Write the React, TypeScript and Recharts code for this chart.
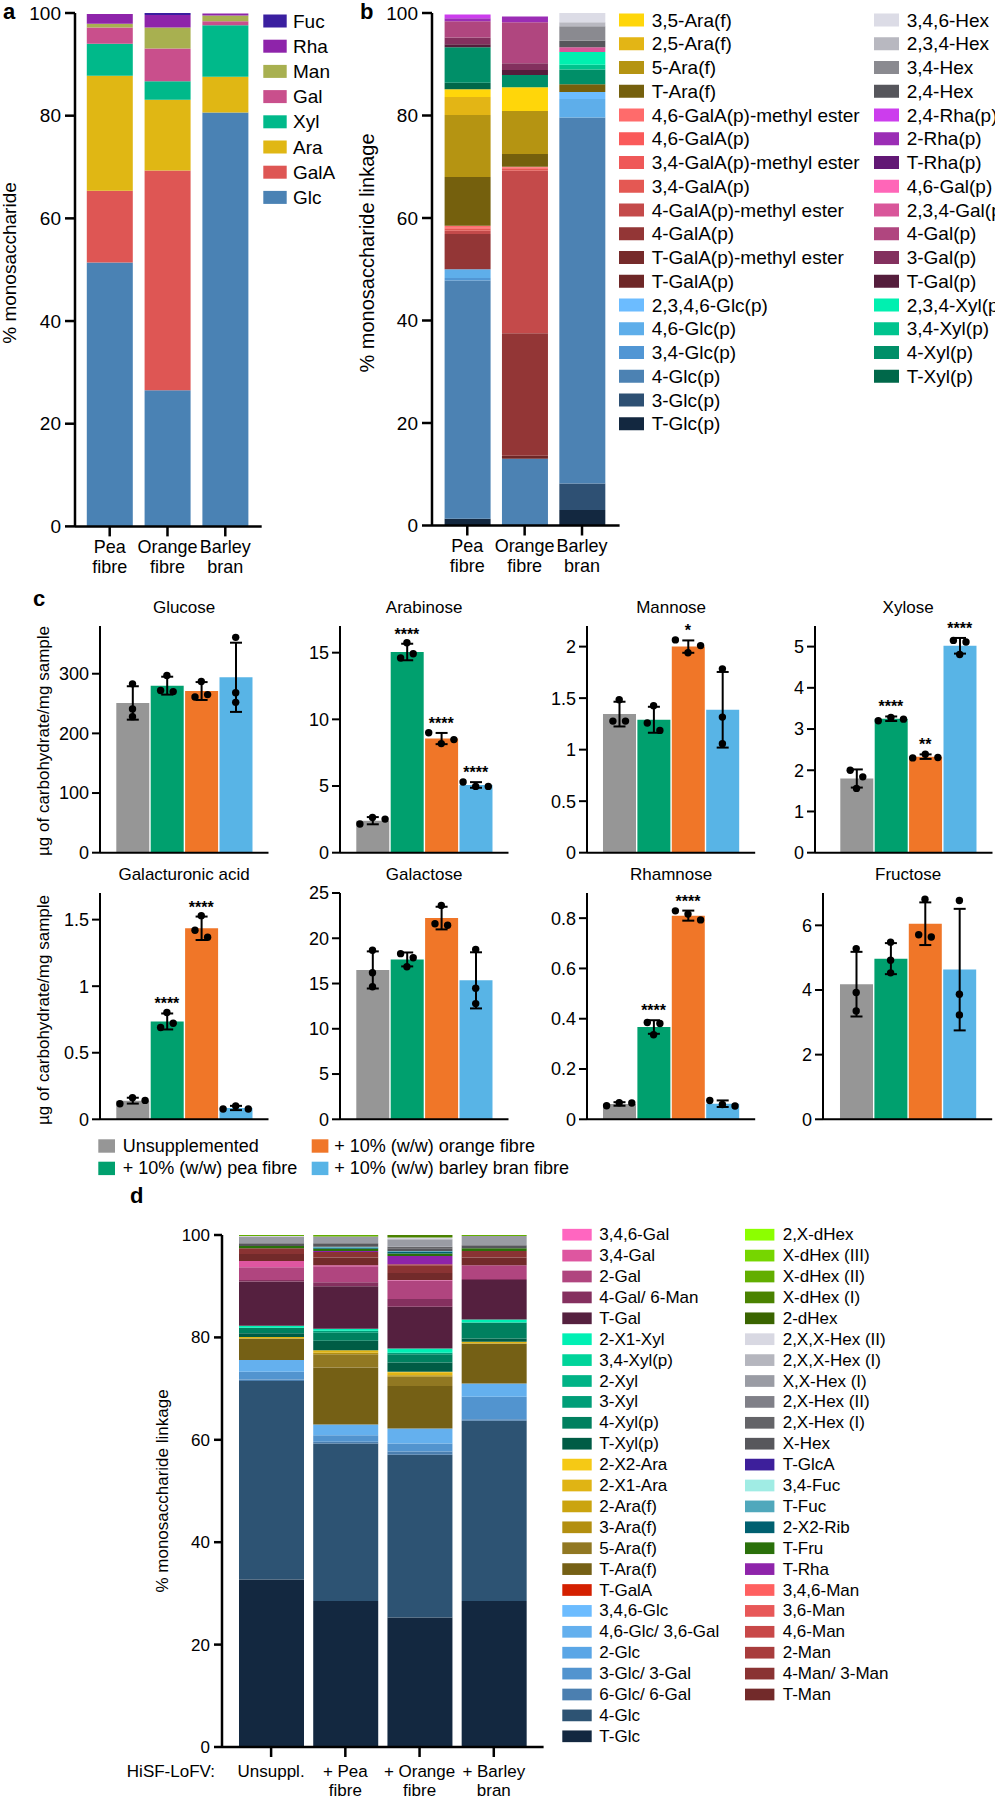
import React from 'react';
import { BarChart, Bar, XAxis, YAxis, ComposedChart, Line, ErrorBar, Cell } from 'recharts';

const FONT = '"Liberation Sans", Arial, Helvetica, sans-serif';
const AXIS = '#000';

// ---------------- Panel a ----------------
const aCategories = ['Pea\nfibre', 'Orange\nfibre', 'Barley\nbran'];
const aNames = ['Fuc', 'Rha', 'Man', 'Gal', 'Xyl', 'Ara', 'GalA', 'Glc'];
const aColors = ['#3a1fa0', '#8e24aa', '#a8b050', '#c94f8c', '#00b98a', '#e0b714', '#de5654', '#4a82b4'];
// values per sugar: [Pea fibre, Orange fibre, Barley bran]
const aValues = [
  [0, 0.4, 0],
  [1.9, 2.4, 0.4],
  [0.7, 4.1, 1.1],
  [3.2, 6.4, 0.8],
  [6.2, 3.6, 10.0],
  [22.4, 13.8, 7.0],
  [14.0, 42.8, 0],
  [51.4, 26.5, 80.6],
];
const pctTicks = [0, 20, 40, 60, 80, 100];

// ---------------- Panel b ----------------
const bCategories = ['Pea\nfibre', 'Orange\nfibre', 'Barley\nbran'];
const bNamesCol1 = ['3,5-Ara(f)', '2,5-Ara(f)', '5-Ara(f)', 'T-Ara(f)', '4,6-GalA(p)-methyl ester', '4,6-GalA(p)',
  '3,4-GalA(p)-methyl ester', '3,4-GalA(p)', '4-GalA(p)-methyl ester', '4-GalA(p)', 'T-GalA(p)-methyl ester', 'T-GalA(p)',
  '2,3,4,6-Glc(p)', '4,6-Glc(p)', '3,4-Glc(p)', '4-Glc(p)', '3-Glc(p)', 'T-Glc(p)'];
const bNamesCol2 = ['3,4,6-Hex', '2,3,4-Hex', '3,4-Hex', '2,4-Hex', '2,4-Rha(p)', '2-Rha(p)', 'T-Rha(p)', '4,6-Gal(p)',
  '2,3,4-Gal(p)', '4-Gal(p)', '3-Gal(p)', 'T-Gal(p)', '2,3,4-Xyl(p)', '3,4-Xyl(p)', '4-Xyl(p)', 'T-Xyl(p)'];
const bColorsCol1 = ['#ffd60a', '#e3b515', '#b59412', '#75600d', '#ff6b6b', '#fa5a5a', '#ef5858', '#e45853', '#c44a4a',
  '#933636', '#762b2b', '#6e2727', '#6cbcff', '#5eaeea', '#5196d4', '#4c82b3', '#2e5073', '#132840'];
const bColorsCol2 = ['#dcdce6', '#b8b8c0', '#8a8a90', '#56565c', '#cc3ded', '#9b2db5', '#621875', '#ff66b8', '#d9569a',
  '#b0467f', '#83305e', '#551d3c', '#00f0b0', '#00c48e', '#008f68', '#00684a'];
// [Pea fibre, Orange fibre, Barley bran]
const bValuesCol1 = [
  [1.5, 4.6, 0], [3.5, 0, 0], [12.1, 8.4, 0], [9.5, 2.5, 1.5], [0.3, 0.2, 0], [0.3, 0.2, 0],
  [0, 0, 0], [0.4, 0.4, 0], [0.6, 31.7, 0], [6.9, 23.9, 0], [0, 0, 0], [0, 0.6, 0],
  [0, 0, 1.4], [1.7, 0, 3.6], [0.5, 0, 0], [46.5, 13.0, 71.4], [0, 0, 5.2], [1.3, 0, 3.0],
];
const bValuesCol2 = [
  [0, 0, 1.8], [0, 0, 0.8], [0, 0, 2.8], [0, 0, 1.3], [0.7, 0, 0], [0.6, 1.1, 0], [0, 0, 0], [0, 0, 0],
  [0, 0, 0.9], [3.2, 8.0, 0], [1.3, 1.3, 0], [0.6, 1.0, 0], [0, 0, 2.5], [0, 0, 0.9], [6.9, 2.4, 2.9], [1.3, 0, 0],
];

// ---------------- Panel c ----------------
const cGroups = ['Unsupplemented', '+ 10% (w/w) pea fibre', '+ 10% (w/w) orange fibre', '+ 10% (w/w) barley bran fibre'];
const cColors = ['#969696', '#00a06e', '#f07628', '#58b4e6'];

const glucoseMean = [251, 280, 271, 294];
const glucoseSd = [28, 15, 15, 58];
const glucosePoints = [[283, 241, 228], [297, 272, 270], [287, 261, 265], [361, 268, 252]];
const glucoseStars = ['', '', '', ''];
const glucoseTicks = [0, 100, 200, 300];

const arabinoseMean = [2.4, 15.05, 8.56, 5.08];
const arabinoseSd = [0.27, 0.62, 0.42, 0.21];
const arabinosePoints = [[2.15, 2.64, 2.52], [15.74, 14.6, 14.92], [9.0, 8.18, 8.48], [5.3, 4.97, 4.97]];
const arabinoseStars = ['', '****', '****', '****'];
const arabinoseTicks = [0, 5, 10, 15];

const mannoseMean = [1.345, 1.29, 2.0, 1.387];
const mannoseSd = [0.12, 0.126, 0.06, 0.367];
const mannosePoints = [[1.484, 1.277, 1.277], [1.426, 1.258, 1.187], [2.065, 1.94, 2.01], [1.784, 1.316, 1.058]];
const mannoseStars = ['', '', '*', ''];
const mannoseTicks = [0, 0.5, 1, 1.5, 2];

const xyloseMean = [1.8, 3.25, 2.33, 5.02];
const xyloseSd = [0.22, 0.055, 0.055, 0.19];
const xylosePoints = [[2.0, 1.84, 1.56], [3.2, 3.28, 3.24], [2.3, 2.39, 2.31], [5.15, 5.11, 4.81]];
const xyloseStars = ['', '****', '**', '****'];
const xyloseTicks = [0, 1, 2, 3, 4, 5];

const galAMean = [0.14, 0.735, 1.435, 0.085];
const galASd = [0.022, 0.06, 0.088, 0.016];
const galAPoints = [[0.117, 0.162, 0.142], [0.802, 0.69, 0.722], [1.53, 1.42, 1.368], [0.077, 0.1, 0.077]];
const galAStars = ['', '****', '****', ''];
const galATicks = [0, 0.5, 1, 1.5];

const galactoseMean = [16.5, 17.66, 22.23, 15.35];
const galactoseSd = [2.05, 0.77, 1.25, 3.1];
const galactosePoints = [[18.68, 16.19, 14.65], [18.3, 17.84, 16.85], [23.63, 21.61, 21.43], [18.75, 14.47, 12.78]];
const galactoseStars = ['', '', '', ''];
const galactoseTicks = [0, 5, 10, 15, 20, 25];

const rhamnoseMean = [0.061, 0.367, 0.81, 0.062];
const rhamnoseSd = [0.007, 0.027, 0.02, 0.013];
const rhamnosePoints = [[0.054, 0.066, 0.065], [0.385, 0.381, 0.336], [0.829, 0.816, 0.793], [0.075, 0.059, 0.053]];
const rhamnoseStars = ['', '****', '****', ''];
const rhamnoseTicks = [0, 0.2, 0.4, 0.6, 0.8];

const fructoseMean = [4.18, 4.97, 6.05, 4.63];
const fructoseSd = [1.0, 0.48, 0.66, 1.88];
const fructosePoints = [[5.28, 3.92, 3.35], [5.48, 4.92, 4.53], [6.81, 5.71, 5.64], [6.77, 3.87, 3.23]];
const fructoseStars = ['', '', '', ''];
const fructoseTicks = [0, 2, 4, 6];

// ---------------- Panel d ----------------
const dCategories = ['Unsuppl.', '+ Pea\nfibre', '+ Orange\nfibre', '+ Barley\nbran'];
const dNamesCol1 = ['3,4,6-Gal', '3,4-Gal', '2-Gal', '4-Gal/ 6-Man', 'T-Gal', '2-X1-Xyl', '3,4-Xyl(p)', '2-Xyl', '3-Xyl',
  '4-Xyl(p)', 'T-Xyl(p)', '2-X2-Ara', '2-X1-Ara', '2-Ara(f)', '3-Ara(f)', '5-Ara(f)', 'T-Ara(f)', 'T-GalA', '3,4,6-Glc',
  '4,6-Glc/ 3,6-Gal', '2-Glc', '3-Glc/ 3-Gal', '6-Glc/ 6-Gal', '4-Glc', 'T-Glc'];
const dNamesCol2 = ['2,X-dHex', 'X-dHex (III)', 'X-dHex (II)', 'X-dHex (I)', '2-dHex', '2,X,X-Hex (II)', '2,X,X-Hex (I)',
  'X,X-Hex (I)', '2,X-Hex (II)', '2,X-Hex (I)', 'X-Hex', 'T-GlcA', '3,4-Fuc', 'T-Fuc', '2-X2-Rib', 'T-Fru', 'T-Rha',
  '3,4,6-Man', '3,6-Man', '4,6-Man', '2-Man', '4-Man/ 3-Man', 'T-Man'];
const dColorsCol1 = ['#ff66c0', '#de56a0', '#b0457f', '#85305f', '#55203f', '#00f0b4', '#00d49a', '#00b386', '#009e78',
  '#00805f', '#005c45', '#f5c915', '#e0b414', '#cba40f', '#b38f10', '#917822', '#756015', '#d42000', '#6cbcff',
  '#64b0ee', '#5aa6e6', '#5294cf', '#4b7fb0', '#2d5373', '#132840'];
const dColorsCol2 = ['#8cff00', '#76d600', '#62ae00', '#4a8200', '#3a6400', '#d8d8e2', '#b5b6be', '#9a9ca4', '#808088',
  '#646468', '#57575c', '#3d1f9b', '#a0ece4', '#50a8bc', '#006070', '#2a700a', '#8e24aa', '#ff6060', '#e85858',
  '#c84848', '#a83c3c', '#8a3333', '#722a2a'];
// [Unsuppl., + Pea, + Orange, + Barley]
const dValuesCol1 = [
  [0, 0, 0, 0], [1.2, 0.2, 0.1, 0], [2.5, 3.15, 3.6, 2.7], [0.3, 0.75, 1.5, 0.2], [8.6, 8.3, 8.15, 7.7],
  [0.4, 0.4, 0.85, 0.6], [0, 0, 0, 0], [0, 0, 0, 0], [0, 0.4, 0.3, 0], [1.1, 1.55, 1.6, 3.1],
  [0.7, 1.85, 1.8, 0.65], [0, 0, 0.1, 0], [0.3, 0.5, 0.6, 0.35], [0, 0, 0, 0], [0, 0.3, 0.3, 0],
  [0, 2.6, 1.8, 0], [4.2, 11.1, 8.3, 7.8], [0, 0, 0, 0], [0, 0, 0, 0], [2.3, 2.1, 2.9, 2.6],
  [0, 0, 0, 0], [1.5, 1.3, 1.6, 4.4], [0.3, 0.3, 0.6, 0.3], [38.8, 30.8, 31.8, 35.2], [32.7, 28.5, 25.3, 28.5],
];
const dValuesCol2 = [
  [0, 0, 0, 0], [0, 0, 0, 0], [0.2, 0.3, 0, 0.2], [0, 0, 0.5, 0], [0, 0, 0, 0], [0.1, 0, 0.35, 0],
  [0, 0, 0, 0], [1.3, 1.3, 1.45, 1.8], [0, 0, 0, 0], [0, 0, 0.3, 0], [0.55, 0.7, 0.5, 0.6], [0, 0, 0, 0],
  [0, 0, 0, 0], [0, 0.2, 0.1, 0], [0, 0.2, 0.4, 0], [0.45, 0.4, 0.5, 0.5], [0, 0.2, 1.6, 0], [0, 0, 0, 0],
  [0, 0, 0, 0], [0, 0, 0, 0], [0, 0, 0.2, 0], [1.1, 1.1, 1.5, 1.3], [1.4, 1.5, 1.4, 1.5],
];

// ---------------- helpers ----------------
type Rect = { l: number; t: number; r: number; b: number };
const ML = 10, MT = 24, MR = 10, MB = 10;

// stacking order: each legend column bottom-up, first column first
function stackOrder(col1Len: number, col2Len: number): number[] {
  const o: number[] = [];
  for (let i = col1Len - 1; i >= 0; i--) o.push(i);
  for (let i = col1Len + col2Len - 1; i >= col1Len; i--) o.push(i);
  return o;
}

const CatTick = (p: any) => {
  const lines = String(p.payload.value).split('\n');
  return (
    <text x={p.x} y={p.y} textAnchor="middle" fontSize={p.fs} fill="#000">
      {lines.map((l: string, i: number) => (
        <tspan key={i} x={p.x} dy={i === 0 ? '0.72em' : p.lh}>{l}</tspan>
      ))}
    </text>
  );
};

type StackProps = {
  plot: Rect; cats: string[]; colors: string[]; values: number[][]; order: number[];
  barSize: number; padL: number; padR: number; tickFont: number; catFont: number;
  yTick: number; yTickMargin: number; xTick: number; xTickMargin: number; lineH: number; stroke: number;
};

function StackedPanel(props: StackProps) {
  const { plot } = props;
  const yW = 60, xH = 60;
  const width = plot.r - plot.l + yW + ML + MR;
  const height = plot.b - plot.t + MT + MB + xH;
  const data = props.cats.map((c, ci) => {
    const row: Record<string, any> = { cat: c };
    props.order.forEach((si) => { row['s' + si] = props.values[si][ci]; });
    return row;
  });
  const line = { stroke: AXIS, strokeWidth: props.stroke };
  return (
    <div style={{ position: 'absolute', left: plot.l - yW - ML, top: plot.t - MT }}>
      <BarChart width={width} height={height} data={data} margin={{ top: MT, right: MR, bottom: MB, left: ML }}>
        <XAxis dataKey="cat" height={xH} padding={{ left: props.padL, right: props.padR }} axisLine={line}
          tickLine={line} tickSize={props.xTick} tickMargin={props.xTickMargin} interval={0}
          tick={(tp: any) => <CatTick {...tp} fs={props.catFont} lh={props.lineH} />} />
        <YAxis type="number" width={yW} domain={[0, 100]} ticks={pctTicks} axisLine={line}
          tickLine={line} tickSize={props.yTick} tickMargin={props.yTickMargin} interval={0}
          tick={{ fill: '#000', fontSize: props.tickFont }} />
        {props.order.map((si) => (
          <Bar key={si} dataKey={'s' + si} stackId="s" fill={props.colors[si]} barSize={props.barSize}
            isAnimationActive={false} />
        ))}
      </BarChart>
    </div>
  );
}

// simple beeswarm: points closer than a dot diameter are spread horizontally
function swarm(vals: number[], ppu: number): number[] {
  const dia = 7.5, step = 12.6;
  const idx = vals.map((_, i) => i).sort((a, b) => vals[b] - vals[a]);
  const clusters: number[][] = [];
  idx.forEach((i) => {
    const last = clusters[clusters.length - 1];
    if (last && Math.abs(vals[last[last.length - 1]] - vals[i]) * ppu < dia) last.push(i);
    else clusters.push([i]);
  });
  const off = vals.map(() => 0);
  clusters.forEach((c) => {
    const s = [...c].sort((a, b) => a - b);
    s.forEach((i, k) => { off[i] = (k - (s.length - 1) / 2) * step; });
  });
  return off;
}

const BAND = 34.4;
type DotProps = {
  l: number; t: number; b: number; padL: number; max: number; ticks: number[];
  mean: number[]; sd: number[]; pts: number[][]; stars: string[];
};

function DotBarPanel(p: DotProps) {
  const padR = 15.6;
  const r = p.l + p.padL + 4 * BAND + padR;
  const yW = 60, xH = 2;
  const width = r - p.l + yW + ML + MR;
  const height = p.b - p.t + MT + MB + xH;
  const ppu = (p.b - p.t) / p.max;
  const offs = p.pts.map((v) => swarm(v, ppu));
  const data = cGroups.map((g, i) => ({
    group: g, mean: p.mean[i], sd: p.sd[i],
    p0: p.pts[i][0], p1: p.pts[i][1], p2: p.pts[i][2],
    o0: offs[i][0], o1: offs[i][1], o2: offs[i][2],
    star: p.stars[i], starY: p.stars[i] ? p.mean[i] + p.sd[i] : null,
  }));
  const line = { stroke: AXIS, strokeWidth: 2 };
  return (
    <div style={{ position: 'absolute', left: p.l - yW - ML, top: p.t - MT }}>
      <ComposedChart width={width} height={height} data={data} margin={{ top: MT, right: MR, bottom: MB, left: ML }}>
        <XAxis dataKey="group" height={xH} padding={{ left: p.padL, right: padR }} tick={false} tickLine={false}
          axisLine={line} />
        <YAxis type="number" width={yW} domain={[0, p.max]} ticks={p.ticks} axisLine={line}
          tickLine={line} tickSize={8} tickMargin={3} interval={0} tick={{ fill: '#000', fontSize: 18 }} />
        <Bar dataKey="mean" barSize={33} isAnimationActive={false}>
          {cColors.map((c, i) => <Cell key={i} fill={c} />)}
          <ErrorBar dataKey="sd" direction="y" width={6} stroke="#000" strokeWidth={2} />
        </Bar>
        {[0, 1, 2].map((k) => (
          <Line key={k} dataKey={'p' + k} stroke="none" isAnimationActive={false} activeDot={false} legendType="none"
            dot={(dp: any) => (
              dp.cy == null ? <g key={`d${k}-${dp.index}`} /> :
                <circle key={`d${k}-${dp.index}`} cx={dp.cx + dp.payload['o' + k]} cy={dp.cy} r={3.7} fill="#000" />
            )} />
        ))}
        <Line dataKey="starY" stroke="none" isAnimationActive={false} activeDot={false} legendType="none"
          dot={(dp: any) => (
            !dp.payload.star || dp.cy == null ? <g key={`s-${dp.index}`} /> :
              <text key={`s-${dp.index}`} x={dp.cx} y={dp.cy - 4} textAnchor="middle" fontSize={16}
                fontWeight="bold" fill="#000">{dp.payload.star}</text>
          )} />
      </ComposedChart>
    </div>
  );
}

function LegendColumn(props: {
  names: string[]; colors: string[]; sx: number; sw: number; sh: number; tx: number; y0: number; dy: number; fs: number;
}) {
  return (
    <g>
      {props.names.map((n, i) => {
        const cy = props.y0 + i * props.dy;
        return (
          <g key={n + i}>
            <rect x={props.sx} y={cy - props.sh / 2} width={props.sw} height={props.sh} fill={props.colors[i]} />
            <text x={props.tx} y={cy} dominantBaseline="central" fontSize={props.fs} fill="#000">{n}</text>
          </g>
        );
      })}
    </g>
  );
}

const cPanels = [
  { title: 'Glucose', l: 100, row: 0, padL: 15.3, max: 380, ticks: glucoseTicks, mean: glucoseMean, sd: glucoseSd, pts: glucosePoints, stars: glucoseStars },
  { title: 'Arabinose', l: 340, row: 0, padL: 15.3, max: 17, ticks: arabinoseTicks, mean: arabinoseMean, sd: arabinoseSd, pts: arabinosePoints, stars: arabinoseStars },
  { title: 'Mannose', l: 587.3, row: 0, padL: 15.0, max: 2.2, ticks: mannoseTicks, mean: mannoseMean, sd: mannoseSd, pts: mannosePoints, stars: mannoseStars },
  { title: 'Xylose', l: 815, row: 0, padL: 24.3, max: 5.5, ticks: xyloseTicks, mean: xyloseMean, sd: xyloseSd, pts: xylosePoints, stars: xyloseStars },
  { title: 'Galacturonic acid', l: 100, row: 1, padL: 15.3, max: 1.7, ticks: galATicks, mean: galAMean, sd: galASd, pts: galAPoints, stars: galAStars },
  { title: 'Galactose', l: 340, row: 1, padL: 15.3, max: 25, ticks: galactoseTicks, mean: galactoseMean, sd: galactoseSd, pts: galactosePoints, stars: galactoseStars },
  { title: 'Rhamnose', l: 587.3, row: 1, padL: 15.0, max: 0.9, ticks: rhamnoseTicks, mean: rhamnoseMean, sd: rhamnoseSd, pts: rhamnosePoints, stars: rhamnoseStars },
  { title: 'Fructose', l: 823.3, row: 1, padL: 16, max: 7, ticks: fructoseTicks, mean: fructoseMean, sd: fructoseSd, pts: fructosePoints, stars: fructoseStars },
];
const cRows = [{ t: 626, b: 852.7, titleY: 613 }, { t: 892.7, b: 1119, titleY: 880 }];

export default function App() {
  const bColors = [...bColorsCol1, ...bColorsCol2];
  const bValues = [...bValuesCol1, ...bValuesCol2];
  const dColors = [...dColorsCol1, ...dColorsCol2];
  const dValues = [...dValuesCol1, ...dValuesCol2];
  const aOrder = aNames.map((_, i) => aNames.length - 1 - i);
  return (
    <div style={{ position: 'absolute', left: 0, top: 0, width: 995, height: 1800, overflow: 'hidden', background: '#fff', fontFamily: FONT }}>
      {/* Panel a */}
      <StackedPanel plot={{ l: 75, t: 12.6, r: 261.7, b: 526 }} cats={aCategories} colors={aColors} values={aValues}
        order={aOrder} barSize={46} padL={5.8} padR={7.5} tickFont={19} catFont={18} yTick={10} yTickMargin={4}
        xTick={10} xTickMargin={4} lineH={20} stroke={2.5} />
      {/* Panel b */}
      <StackedPanel plot={{ l: 431.7, t: 13, r: 619.3, b: 525.5 }} cats={bCategories} colors={bColors} values={bValues}
        order={stackOrder(bNamesCol1.length, bNamesCol2.length)} barSize={46} padL={6.6} padR={8.9} tickFont={19}
        catFont={18} yTick={10} yTickMargin={4} xTick={10} xTickMargin={4} lineH={20} stroke={2.5} />
      {/* Panel c */}
      {cPanels.map((cp) => (
        <DotBarPanel key={cp.title} l={cp.l} t={cRows[cp.row].t} b={cRows[cp.row].b} padL={cp.padL} max={cp.max}
          ticks={cp.ticks} mean={cp.mean} sd={cp.sd} pts={cp.pts} stars={cp.stars} />
      ))}
      {/* Panel d */}
      <StackedPanel plot={{ l: 221.7, t: 1235, r: 543.3, b: 1747 }} cats={dCategories} colors={dColors} values={dValues}
        order={stackOrder(dNamesCol1.length, dNamesCol2.length)} barSize={65} padL={12} padR={12.7} tickFont={17}
        catFont={17} yTick={8} yTickMargin={4} xTick={10} xTickMargin={8} lineH={18.5} stroke={2.5} />

      <svg width={995} height={1800} style={{ position: 'absolute', left: 0, top: 0, pointerEvents: 'none' }}>
        {/* panel letters */}
        <text x={3} y={19} fontSize={22} fontWeight="bold" fill="#000">a</text>
        <text x={360} y={19} fontSize={22} fontWeight="bold" fill="#000">b</text>
        <text x={33} y={606} fontSize={22} fontWeight="bold" fill="#000">c</text>
        <text x={130} y={1203} fontSize={22} fontWeight="bold" fill="#000">d</text>

        {/* y labels */}
        <text transform="translate(9,263) rotate(-90)" textAnchor="middle" dominantBaseline="central" fontSize={19} fill="#000">% monosaccharide</text>
        <text transform="translate(367,253) rotate(-90)" textAnchor="middle" dominantBaseline="central" fontSize={20} fill="#000">% monosaccharide linkage</text>
        <text transform="translate(43,741) rotate(-90)" textAnchor="middle" dominantBaseline="central" fontSize={17} fill="#000">µg of carbohydrate/mg sample</text>
        <text transform="translate(43,1010) rotate(-90)" textAnchor="middle" dominantBaseline="central" fontSize={17} fill="#000">µg of carbohydrate/mg sample</text>
        <text transform="translate(162,1491) rotate(-90)" textAnchor="middle" dominantBaseline="central" fontSize={17} fill="#000">% monosaccharide linkage</text>
        <text x={215} y={1777} textAnchor="end" fontSize={17} fill="#000">HiSF-LoFV:</text>

        {/* panel c titles */}
        {cPanels.map((cp) => (
          <text key={cp.title} x={cp.l + cp.padL + 2 * BAND} y={cRows[cp.row].titleY} textAnchor="middle" fontSize={17} fill="#000">{cp.title}</text>
        ))}

        {/* legends */}
        <LegendColumn names={aNames} colors={aColors} sx={263.3} sw={23.4} sh={13} tx={293} y0={21} dy={25.2} fs={19} />
        <LegendColumn names={bNamesCol1} colors={bColorsCol1} sx={619} sw={25} sh={13} tx={651.7} y0={20} dy={23.75} fs={19} />
        <LegendColumn names={bNamesCol2} colors={bColorsCol2} sx={874} sw={25} sh={13} tx={906.7} y0={20} dy={23.75} fs={19} />
        <LegendColumn names={cGroups.slice(0, 2)} colors={cColors.slice(0, 2)} sx={98.3} sw={16.7} sh={13.4} tx={122.7} y0={1146} dy={22.4} fs={18} />
        <LegendColumn names={cGroups.slice(2, 4)} colors={cColors.slice(2, 4)} sx={311.7} sw={16.7} sh={13.4} tx={334.3} y0={1146} dy={22.4} fs={18} />
        <LegendColumn names={dNamesCol1} colors={dColorsCol1} sx={562.3} sw={29.4} sh={11.7} tx={599.3} y0={1234.7} dy={20.9} fs={17} />
        <LegendColumn names={dNamesCol2} colors={dColorsCol2} sx={745} sw={29.4} sh={11.7} tx={782.7} y0={1234.7} dy={20.9} fs={17} />
      </svg>
    </div>
  );
}
